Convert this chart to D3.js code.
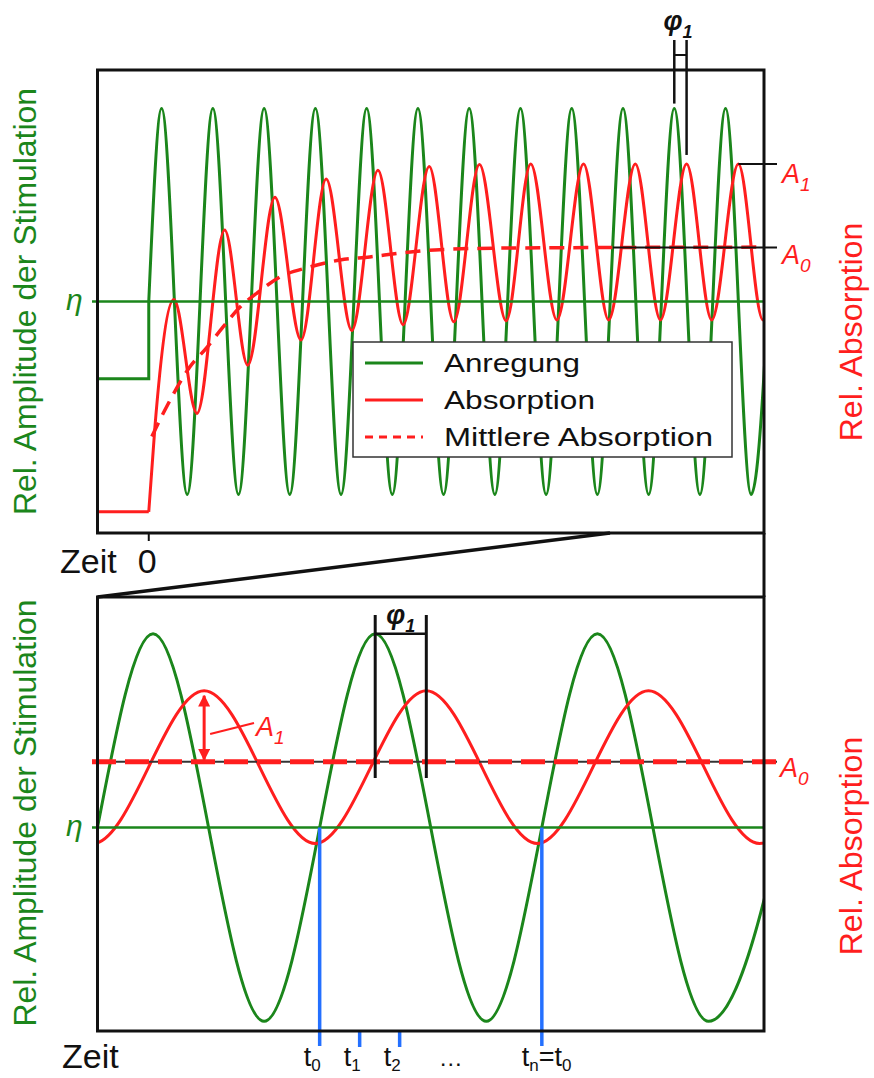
<!DOCTYPE html>
<html>
<head>
<meta charset="utf-8">
<script src="https://cdn.jsdelivr.net/npm/d3@7"></script>
<style>
body { margin: 0; background: #fff; }
svg text { font-family: "Liberation Sans", Arial, sans-serif; }
</style>
</head>
<body>
<svg id="chart" width="874" height="1078"></svg>
<script>
// Oberes Diagramm: Zeit in Perioden der Anregung, Werte relativ zu eta
var topTime = [-1, 12];
var topAmp = [-1.2, 1.2];
var topGreenStep = [[-1, -0.40], [0, -0.40], [0, 0]];
var topGreen = [[0, 0], [0.25, 1], [0.75, -1], [1.25, 1], [1.75, -1], [2.25, 1], [2.75, -1], [3.25, 1], [3.75, -1],
    [4.25, 1], [4.75, -1], [5.25, 1], [5.75, -1], [6.25, 1], [6.75, -1], [7.25, 1], [7.75, -1], [8.25, 1], [8.75, -1],
    [9.25, 1], [9.75, -1], [10.25, 1], [10.75, -1], [11.25, 1], [11.75, -1], [12.25, 1]];
var topRedStep = [[-1, -1.09], [0, -1.09]];
var topRed = [[0, -1.09], [0.12, -0.65], [0.49, 0.01], [0.94, -0.58], [1.48, 0.37], [1.93, -0.33], [2.46, 0.54],
    [2.97, -0.20], [3.46, 0.635], [3.96, -0.15], [4.47, 0.68], [4.96, -0.12], [5.47, 0.70], [5.95, -0.105],
    [6.45, 0.71], [6.97, -0.10], [7.45, 0.713], [7.96, -0.096], [8.48, 0.713], [8.97, -0.096], [9.49, 0.713],
    [9.98, -0.096], [10.49, 0.713], [10.98, -0.096], [11.50, 0.713], [11.98, -0.096], [12.48, 0.713]];
var topMean = [[0.06, -0.70], [0.32, -0.56], [0.80, -0.34], [1.14, -0.236], [1.45, -0.132], [1.78, -0.029],
    [2.11, 0.044], [2.56, 0.127], [3.14, 0.179], [3.73, 0.215], [4.31, 0.231], [4.92, 0.251], [5.58, 0.267],
    [6.89, 0.277], [12, 0.282]];
var topA0 = 0.28;
var topPhase = [10.25, 10.49];   // Maximum Anregung, Maximum Absorption
var topA1Peak = [11.50, 0.713];

// Unteres Diagramm (Ausschnitt): drei Perioden
var botTime = [0, 3];
var botAmp = [-1.05, 1.19];
var botGreen = [[0, 0], [0.25, 1], [0.75, -1], [1.25, 1], [1.75, -1], [2.25, 1], [2.75, -1], [3.25, 1]];
var botRed = [[-0.52, 0.706], [-0.02, -0.082], [0.48, 0.706], [0.98, -0.082], [1.48, 0.706], [1.98, -0.082],
    [2.48, 0.706], [2.98, -0.082], [3.48, 0.706]];
var botA0 = 0.34;
var botPhase = [1.25, 1.48];
var botA1Peak = [0.48, 0.706];
var sampleLines = [1, 2];
var sampleTicks = [1.18, 1.36];
var sampleLabels = [
    { t: 1, parts: ["t", "0"] },
    { t: 1.18, parts: ["t", "1"] },
    { t: 1.36, parts: ["t", "2"] },
    { t: 1.59, parts: ["…"] },
    { t: 2, parts: ["t", "n", "=t", "0"] }
];
var legendLabels = ["Anregung", "Absorption", "Mittlere Absorption"];
var yLabelLeft = "Rel. Amplitude der Stimulation";
var yLabelRight = "Rel. Absorption";
var xLabel = "Zeit";

var green = "#1b861b", red = "#ff1e1e", blue = "#2470ff", black = "#111";
var svg = d3.select("#chart");

var xTop = d3.scaleLinear().domain(topTime).range([97.5, 764]);
var yTop = d3.scaleLinear().domain(topAmp).range([533, 70]);
var xBot = d3.scaleLinear().domain(botTime).range([97.5, 764]);
var yBot = d3.scaleLinear().domain(botAmp).range([1031, 597]);

var defs = svg.append("defs");
defs.append("clipPath").attr("id", "clipTop").append("rect")
    .attr("x", 97.5).attr("y", 70).attr("width", 666.5).attr("height", 463);
defs.append("clipPath").attr("id", "clipBot").append("rect")
    .attr("x", 97.5).attr("y", 597).attr("width", 666.5).attr("height", 434);

function lineGen(x, y, curve) {
    return d3.line().x(d => x(d[0])).y(d => y(d[1])).curve(curve);
}

function subText(g, x, y, parts, size, subSize, color, italic, anchor, shift) {
    var drop = shift || subSize * 0.42;
    var t = g.append("text")
        .attr("x", x).attr("y", y)
        .attr("fill", color)
        .attr("font-size", size)
        .attr("text-anchor", anchor || "start")
        .style("font-style", italic ? "italic" : "normal");
    parts.forEach(function(p, i) {
        var isSub = i % 2 === 1;
        var span = t.append("tspan").text(p);
        if (isSub) span.attr("font-size", subSize).attr("dy", drop);
        else if (i > 0) span.attr("dy", -drop);
    });
    return t;
}

// ---------- oberes Diagramm ----------
var topG = svg.append("g");
var topPlot = topG.append("g").attr("clip-path", "url(#clipTop)");

topG.append("line")
    .attr("x1", 92).attr("x2", 764)
    .attr("y1", yTop(0)).attr("y2", yTop(0))
    .attr("stroke", green).attr("stroke-width", 2.5);

topPlot.append("path").datum(topGreenStep)
    .attr("d", lineGen(xTop, yTop, d3.curveLinear))
    .attr("fill", "none").attr("stroke", green).attr("stroke-width", 3);
topPlot.append("path").datum(topGreen)
    .attr("d", lineGen(xTop, yTop, d3.curveMonotoneX))
    .attr("fill", "none").attr("stroke", green).attr("stroke-width", 3);
topPlot.append("path").datum(topRedStep)
    .attr("d", lineGen(xTop, yTop, d3.curveLinear))
    .attr("fill", "none").attr("stroke", red).attr("stroke-width", 3);
topPlot.append("path").datum(topRed)
    .attr("d", lineGen(xTop, yTop, d3.curveMonotoneX))
    .attr("fill", "none").attr("stroke", red).attr("stroke-width", 3);

topG.append("line")
    .attr("x1", 613).attr("x2", 777)
    .attr("y1", yTop(topA0)).attr("y2", yTop(topA0))
    .attr("stroke", black).attr("stroke-width", 2);
topPlot.append("path").datum(topMean)
    .attr("d", lineGen(xTop, yTop, d3.curveMonotoneX))
    .attr("fill", "none").attr("stroke", red).attr("stroke-width", 3.5)
    .attr("stroke-dasharray", "15,9");
topG.append("line")
    .attr("x1", xTop(topA1Peak[0])).attr("x2", 777)
    .attr("y1", yTop(topA1Peak[1])).attr("y2", yTop(topA1Peak[1]))
    .attr("stroke", black).attr("stroke-width", 2);

// Phasenverschiebung oben
topG.append("line")
    .attr("x1", xTop(topPhase[0])).attr("x2", xTop(topPhase[0]))
    .attr("y1", 40).attr("y2", yTop(1) - 5)
    .attr("stroke", black).attr("stroke-width", 2.5);
topG.append("line")
    .attr("x1", xTop(topPhase[1])).attr("x2", xTop(topPhase[1]))
    .attr("y1", 40).attr("y2", yTop(topA1Peak[1]) - 9)
    .attr("stroke", black).attr("stroke-width", 2.5);
topG.append("line")
    .attr("x1", xTop(topPhase[0])).attr("x2", xTop(topPhase[1]))
    .attr("y1", 55).attr("y2", 55)
    .attr("stroke", black).attr("stroke-width", 2);
subText(topG, 678, 30, ["φ", "1"], 27, 18, black, true, "middle").style("font-weight", "bold");

subText(topG, 782, 183, ["A", "1"], 27, 19, red, true);
subText(topG, 782, 264, ["A", "0"], 27, 19, red, true);
topG.append("text")
    .attr("x", 66).attr("y", yTop(0) + 8)
    .attr("fill", green).attr("font-size", 30)
    .style("font-style", "italic").text("η");

// Legende
var legend = topG.append("g");
legend.append("rect")
    .attr("x", 353).attr("y", 342).attr("width", 379).attr("height", 115)
    .attr("fill", "#fff").attr("stroke", "#333").attr("stroke-width", 1.5);
var legendStyle = [[green, null], [red, null], [red, "8,6"]];
var legendWidth = [136, 151, 269];
legendLabels.forEach(function(lab, i) {
    var y = 363 + i * 37;
    legend.append("line")
        .attr("x1", 365).attr("x2", 423).attr("y1", y).attr("y2", y)
        .attr("stroke", legendStyle[i][0]).attr("stroke-width", 3)
        .attr("stroke-dasharray", legendStyle[i][1]);
    legend.append("text")
        .attr("x", 444).attr("y", y + 9)
        .attr("font-size", 26).attr("fill", "#111")
        .attr("textLength", legendWidth[i]).attr("lengthAdjust", "spacingAndGlyphs")
        .text(lab);
});

topG.append("rect")
    .attr("x", 97.5).attr("y", 70).attr("width", 666.5).attr("height", 463)
    .attr("fill", "none").attr("stroke", black).attr("stroke-width", 3);
topG.append("line")
    .attr("x1", xTop(0)).attr("x2", xTop(0)).attr("y1", 533).attr("y2", 541)
    .attr("stroke", black).attr("stroke-width", 2);
topG.append("text").attr("x", 60).attr("y", 573).attr("font-size", 34).attr("fill", black).text(xLabel);
topG.append("text").attr("x", xTop(0) - 11).attr("y", 573).attr("font-size", 34).attr("fill", black).text("0");

topG.append("text")
    .attr("transform", "translate(36," + 301.5 + ") rotate(-90)")
    .attr("text-anchor", "middle").attr("font-size", 31).attr("fill", green)
    .attr("textLength", 427).attr("lengthAdjust", "spacingAndGlyphs")
    .text(yLabelLeft);
topG.append("text")
    .attr("transform", "translate(862," + 332 + ") rotate(-90)")
    .attr("text-anchor", "middle").attr("font-size", 31).attr("fill", red)
    .attr("textLength", 219).attr("lengthAdjust", "spacingAndGlyphs")
    .text(yLabelRight);

// Lupe zwischen den Diagrammen
svg.append("line")
    .attr("x1", 97.5).attr("y1", 597).attr("x2", 610).attr("y2", 533)
    .attr("stroke", black).attr("stroke-width", 3.5);
svg.append("line")
    .attr("x1", 764).attr("y1", 533).attr("x2", 764).attr("y2", 597)
    .attr("stroke", black).attr("stroke-width", 3);

// ---------- unteres Diagramm ----------
var botG = svg.append("g");
var botPlot = botG.append("g").attr("clip-path", "url(#clipBot)");

botG.append("line")
    .attr("x1", 92).attr("x2", 764)
    .attr("y1", yBot(0)).attr("y2", yBot(0))
    .attr("stroke", green).attr("stroke-width", 2.5);

sampleLines.forEach(function(t) {
    botG.append("line")
        .attr("x1", xBot(t)).attr("x2", xBot(t))
        .attr("y1", yBot(0)).attr("y2", 1046)
        .attr("stroke", blue).attr("stroke-width", 3.5);
});
sampleTicks.forEach(function(t) {
    botG.append("line")
        .attr("x1", xBot(t)).attr("x2", xBot(t))
        .attr("y1", 1031).attr("y2", 1047)
        .attr("stroke", blue).attr("stroke-width", 3.5);
});

botPlot.append("path").datum(botGreen)
    .attr("d", lineGen(xBot, yBot, d3.curveMonotoneX))
    .attr("fill", "none").attr("stroke", green).attr("stroke-width", 3);
botPlot.append("path").datum(botRed)
    .attr("d", lineGen(xBot, yBot, d3.curveMonotoneX))
    .attr("fill", "none").attr("stroke", red).attr("stroke-width", 3);

botG.append("line")
    .attr("x1", 97.5).attr("x2", 777)
    .attr("y1", yBot(botA0)).attr("y2", yBot(botA0))
    .attr("stroke", "#333").attr("stroke-width", 2);
botG.append("line")
    .attr("x1", 92).attr("x2", 777)
    .attr("y1", yBot(botA0)).attr("y2", yBot(botA0))
    .attr("stroke", red).attr("stroke-width", 5)
    .attr("stroke-dasharray", "24,9");

// Phasenverschiebung unten
botPhase.forEach(function(t) {
    botG.append("line")
        .attr("x1", xBot(t)).attr("x2", xBot(t))
        .attr("y1", 615).attr("y2", 778)
        .attr("stroke", black).attr("stroke-width", 3);
});
botG.append("line")
    .attr("x1", xBot(botPhase[0])).attr("x2", xBot(botPhase[1]))
    .attr("y1", yBot(1)).attr("y2", yBot(1))
    .attr("stroke", black).attr("stroke-width", 2.5);
subText(botG, (xBot(botPhase[0]) + xBot(botPhase[1])) / 2, 624, ["φ", "1"], 27, 18, black, true, "middle")
    .style("font-weight", "bold");

// Amplitude A1
defs.append("marker").attr("id", "arrowRed")
    .attr("viewBox", "0 0 10 10").attr("refX", 9).attr("refY", 5)
    .attr("markerWidth", 4).attr("markerHeight", 4).attr("orient", "auto-start-reverse")
    .append("path").attr("d", "M0,0L10,5L0,10z").attr("fill", red);
var ax = xBot(botA1Peak[0]);
botG.append("line")
    .attr("x1", ax).attr("x2", ax)
    .attr("y1", yBot(botA1Peak[1]) + 5).attr("y2", yBot(botA0) - 2)
    .attr("stroke", red).attr("stroke-width", 3)
    .attr("marker-start", "url(#arrowRed)").attr("marker-end", "url(#arrowRed)");
botG.append("line")
    .attr("x1", ax + 6).attr("y1", 734).attr("x2", 254).attr("y2", 723)
    .attr("stroke", red).attr("stroke-width", 2);
subText(botG, 256, 736, ["A", "1"], 27, 19, red, true);
subText(botG, 780, 777, ["A", "0"], 27, 19, red, true);
botG.append("text")
    .attr("x", 66).attr("y", yBot(0) + 8)
    .attr("fill", green).attr("font-size", 30)
    .style("font-style", "italic").text("η");

botG.append("rect")
    .attr("x", 97.5).attr("y", 597).attr("width", 666.5).attr("height", 434)
    .attr("fill", "none").attr("stroke", black).attr("stroke-width", 3);

botG.append("text").attr("x", 62).attr("y", 1068).attr("font-size", 34).attr("fill", black).text(xLabel);
sampleLabels.forEach(function(s) {
    if (s.parts.length === 1) {
        botG.append("text").attr("x", xBot(s.t)).attr("y", 1066)
            .attr("text-anchor", "middle").attr("font-size", 24).attr("fill", black).text(s.parts[0]);
    } else {
        var dx = s.parts.length > 2 ? -20 : -16;
        subText(botG, xBot(s.t) + dx, 1066, s.parts, 27, 17, black, false, "start", 5);
    }
});

botG.append("text")
    .attr("transform", "translate(36," + 813 + ") rotate(-90)")
    .attr("text-anchor", "middle").attr("font-size", 31).attr("fill", green)
    .attr("textLength", 427).attr("lengthAdjust", "spacingAndGlyphs")
    .text(yLabelLeft);
botG.append("text")
    .attr("transform", "translate(862," + 846 + ") rotate(-90)")
    .attr("text-anchor", "middle").attr("font-size", 31).attr("fill", red)
    .attr("textLength", 219).attr("lengthAdjust", "spacingAndGlyphs")
    .text(yLabelRight);
</script>
</body>
</html>
